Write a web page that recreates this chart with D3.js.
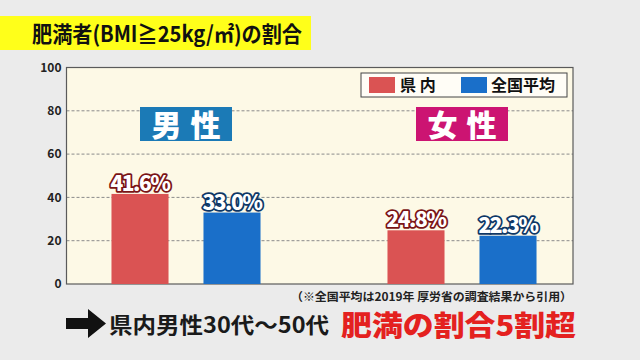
<!DOCTYPE html>
<html><head><meta charset="utf-8">
<script src="https://cdn.jsdelivr.net/npm/d3@7"></script>
<style>
html,body{margin:0;padding:0;background:#ebebeb;}
svg{display:block;}
text{font-family:"Noto Sans CJK JP","Noto Sans",sans-serif;}
</style></head>
<body>
<svg id="c" width="640" height="360"></svg>
<script>
const groups = ["男性", "女性"];
const seriesNames = ["県内", "全国平均"];
const prefValues = [41.6, 24.8];
const nationalValues = [33.0, 22.3];
const yTicks = [0, 20, 40, 60, 80, 100];
const title = "肥満者(BMI≧25kg/㎡)の割合";
const footnote = "（※全国平均は2019年 厚労省の調査結果から引用）";
const bottomBlack = "県内男性30代～50代";
const bottomRed = "肥満の割合5割超";

const colors = {"県内": "#da5353", "全国平均": "#1a6fc9"};
const strokeColors = {"県内": "#7a1416", "全国平均": "#0e3766"};
const groupBoxColors = {"男性": "#1b7ab6", "女性": "#cc1472"};

const svg = d3.select("#c");
const W = 640, H = 360;
svg.append("rect").attr("width", W).attr("height", H).attr("fill", "#ebebeb");

const plot = {left: 66.5, right: 573, top: 67.5, bottom: 284};

// title bar
svg.append("rect").attr("x", 0).attr("y", 16).attr("width", 311).attr("height", 34).attr("fill", "#ffff1a");
svg.append("text").attr("x", 32).attr("y", 42).attr("font-size", 22).attr("font-weight", 700)
  .attr("fill", "#111").attr("textLength", 270).attr("lengthAdjust", "spacingAndGlyphs").text(title);

const y = d3.scaleLinear().domain([0, 100]).range([plot.bottom, plot.top]);
const x0 = d3.scaleBand().domain(groups).range([48, 600]).padding(0);
const x1 = d3.scaleBand().domain(seriesNames).range([0, x0.bandwidth()])
  .paddingInner(0.38).paddingOuter(0.69).align(0.5);

// plot area
svg.append("rect").attr("x", plot.left).attr("y", plot.top)
  .attr("width", plot.right - plot.left).attr("height", plot.bottom - plot.top)
  .attr("fill", "#fdf9e6");

// gridlines
svg.append("g").selectAll("line").data(yTicks.filter(d => d > 0 && d < 100)).join("line")
  .attr("x1", plot.left).attr("x2", plot.right)
  .attr("y1", d => y(d)).attr("y2", d => y(d))
  .attr("stroke", "#8a8a8a").attr("stroke-width", 1).attr("stroke-dasharray", "3,2");

// y axis
const yAxis = d3.axisLeft(y).tickValues(yTicks).tickSize(0).tickPadding(5);
const ga = svg.append("g").attr("transform", `translate(${plot.left},0)`).call(yAxis);
ga.select(".domain").remove();
ga.selectAll("text").attr("font-size", 12).attr("font-weight", 700).attr("fill", "#222")
  .attr("font-family", "Roboto, 'Noto Sans', sans-serif");

// border
svg.append("rect").attr("x", plot.left).attr("y", plot.top)
  .attr("width", plot.right - plot.left).attr("height", plot.bottom - plot.top)
  .attr("fill", "none").attr("stroke", "#5a5a5a").attr("stroke-width", 1.2);

// group label boxes
groups.forEach(g => {
  const cx = x0(g) + x0.bandwidth() / 2;
  svg.append("rect").attr("x", cx - 46).attr("y", 107).attr("width", 92).attr("height", 34)
    .attr("fill", groupBoxColors[g]);
  svg.append("text").attr("x", cx).attr("y", 136).attr("text-anchor", "middle")
    .attr("font-size", 30).attr("font-weight", 900).attr("fill", "#fff")
    .attr("letter-spacing", 9).attr("dx", 4.5).text(g);
});

// bars
const data = [];
groups.forEach((g, i) => {
  data.push({g, s: "県内", v: prefValues[i]});
  data.push({g, s: "全国平均", v: nationalValues[i]});
});
svg.append("g").selectAll("rect").data(data).join("rect")
  .attr("x", d => x0(d.g) + x1(d.s)).attr("width", x1.bandwidth())
  .attr("y", d => y(d.v)).attr("height", d => y(0) - y(d.v))
  .attr("fill", d => colors[d.s]);

// value labels
svg.append("g").selectAll("text").data(data).join("text")
  .attr("x", d => x0(d.g) + x1(d.s) + x1.bandwidth() / 2)
  .attr("y", d => y(d.v) - 3)
  .attr("text-anchor", "middle")
  .attr("font-family", "Roboto, 'Noto Sans', sans-serif")
  .attr("font-size", 21).attr("font-weight", 900).attr("letter-spacing", -1.5)
  .attr("fill", "#fff").attr("stroke", d => strokeColors[d.s]).attr("stroke-width", 3.5)
  .attr("stroke-linejoin", "round").attr("paint-order", "stroke")
  .text(d => d.v.toFixed(1) + "%");

// legend
const lg = svg.append("g");
lg.append("rect").attr("x", 361).attr("y", 73).attr("width", 206).attr("height", 24)
  .attr("fill", "#fffdf6").attr("stroke", "#444").attr("stroke-width", 1);
const legendItems = [{s: "県内", label: "県 内", x: 369, tx: 400}, {s: "全国平均", label: "全国平均", x: 461, tx: 491}];
legendItems.forEach(it => {
  lg.append("rect").attr("x", it.x).attr("y", 77).attr("width", 26).attr("height", 16).attr("fill", colors[it.s]);
  lg.append("text").attr("x", it.tx).attr("y", 91).attr("font-size", 16).attr("font-weight", 700)
    .attr("fill", "#111").text(it.label);
});

// footnote
svg.append("text").attr("x", 291).attr("y", 301)
  .attr("font-size", 11.5).attr("font-weight", 700).attr("fill", "#222")
  .attr("textLength", 281).attr("lengthAdjust", "spacingAndGlyphs").text(footnote);

// arrow
svg.append("path")
  .attr("d", "M66,318 L88,318 L88,309 L106,323.5 L88,338 L88,329 L66,329 Z")
  .attr("fill", "#111");

svg.append("text").attr("x", 109).attr("y", 333).attr("font-size", 22).attr("font-weight", 700)
  .attr("fill", "#1a1a1a").attr("textLength", 220).attr("lengthAdjust", "spacingAndGlyphs").text(bottomBlack);
svg.append("text").attr("x", 341).attr("y", 336).attr("font-size", 28).attr("font-weight", 900)
  .attr("fill", "#e4211f").attr("textLength", 235).attr("lengthAdjust", "spacingAndGlyphs").text(bottomRed);
</script>
</body></html>
